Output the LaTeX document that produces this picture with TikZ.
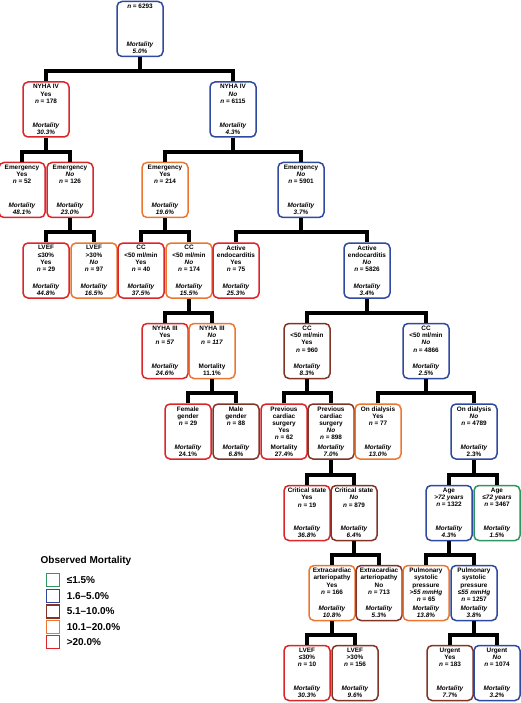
\documentclass[tikz,border=0pt]{standalone}
\usepackage{fontspec}
\setmainfont{Liberation Sans}
\definecolor{mgreen}{RGB}{48,150,96}
\definecolor{mblue}{RGB}{46,73,158}
\definecolor{mbrown}{RGB}{130,52,38}
\definecolor{morange}{RGB}{236,118,48}
\definecolor{mred}{RGB}{218,37,41}
% top lines of a box, then mortality at its foot
\newcommand{\boxtext}[2]{\parbox[c][50pt][s]{42pt}{\centering #1\par\vfill #2}}
\begin{document}
\begin{tikzpicture}[x=1pt, y=-1pt,
    cell/.style={draw, rounded corners=5pt, line width=1.5pt, minimum width=43pt,
      minimum height=55pt, inner sep=2pt, font=\fontsize{6.4}{7.2}\selectfont\bfseries},
    lowbox/.style={cell, draw=mgreen},
    midbox/.style={cell, draw=mblue},
    raisedbox/.style={cell, draw=mbrown},
    highbox/.style={cell, draw=morange},
    topbox/.style={cell, draw=mred},
    link/.style={line width=4pt},
    legbox/.style={draw, line width=1.5pt, minimum size=13pt, inner sep=0pt},
    legtext/.style={anchor=west, font=\fontsize{10}{12}\selectfont\bfseries}]
    \useasboundingbox (0,0) rectangle (520,703);

    % root
    \node[midbox] (root) at (140,29) {\boxtext{\textit{n} = 6293}{\textit{Mortality}\\\textit{5.0\%}}};

    % NYHA IV
    \node[topbox] (nyY) at (46,109.5) {\boxtext{NYHA IV\\Yes\\\textit{n} = 178}{\textit{Mortality}\\\textit{30.3\%}}};
    \node[midbox] (nyN) at (233,109.5) {\boxtext{NYHA IV\\\textit{No}\\\textit{n} = 6115}{\textit{Mortality}\\\textit{4.3\%}}};

    % emergency
    \node[topbox] (emY1) at (22,190) {\boxtext{Emergency\\Yes\\\textit{n} = 52}{\textit{Mortality}\\\textit{48.1\%}}};
    \node[topbox] (emN1) at (70,190) {\boxtext{Emergency\\\textit{No}\\\textit{n} = 126}{\textit{Mortality}\\\textit{23.0\%}}};
    \node[highbox] (emY2) at (165,190) {\boxtext{Emergency\\Yes\\\textit{n} = 214}{\textit{Mortality}\\\textit{19.6\%}}};
    \node[midbox] (emN2) at (301,190) {\boxtext{Emergency\\\textit{No}\\\textit{n} = 5901}{\textit{Mortality}\\\textit{3.7\%}}};

    % LVEF, CC, active endocarditis
    \node[topbox] (lvL1) at (46,270.5) {\boxtext{LVEF\\≤30\%\\Yes\\\textit{n} = 29}{\textit{Mortality}\\\textit{44.8\%}}};
    \node[highbox] (lvH1) at (94,270.5) {\boxtext{LVEF\\>30\%\\\textit{No}\\\textit{n} = 97}{\textit{Mortality}\\\textit{16.5\%}}};
    \node[topbox] (ccY1) at (141,270.5) {\boxtext{CC\\<50 ml/min\\Yes\\\textit{n} = 40}{\textit{Mortality}\\\textit{37.5\%}}};
    \node[highbox] (ccN1) at (189,270.5) {\boxtext{CC\\<50 ml/min\\\textit{No}\\\textit{n} = 174}{\textit{Mortality}\\\textit{15.5\%}}};
    \node[topbox] (aeY) at (236,270.5) {\boxtext{Active\\endocarditis\\Yes\\\textit{n} = 75}{\textit{Mortality}\\\textit{25.3\%}}};
    \node[midbox] (aeN) at (367,270.5) {\boxtext{Active\\endocarditis\\\textit{No}\\\textit{n} = 5826}{\textit{Mortality}\\\textit{3.4\%}}};

    % NYHA III, CC
    \node[topbox] (n3Y) at (165,351) {\boxtext{NYHA III\\Yes\\\textit{n = 57}}{\textit{Mortality}\\\textit{24.6\%}}};
    \node[highbox] (n3N) at (212,351) {\boxtext{NYHA III\\\textit{No}\\\textit{n = 117}}{Mortality\\11.1\%}};
    \node[raisedbox] (ccY2) at (307,351) {\boxtext{CC\\<50 ml/min\\Yes\\\textit{n} = 960}{\textit{Mortality}\\\textit{8.3\%}}};
    \node[midbox] (ccN2) at (426,351) {\boxtext{CC\\<50 ml/min\\\textit{No}\\\textit{n} = 4866}{\textit{Mortality}\\\textit{2.5\%}}};

    % gender, previous surgery, dialysis
    \node[topbox] (fem) at (188,431.5) {\boxtext{Female\\gender\\\textit{n} = 29}{\textit{Mortality}\\24.1\%}};
    \node[raisedbox] (male) at (236,431.5) {\boxtext{Male\\gender\\\textit{n} = 88}{\textit{Mortality}\\\textit{6.8\%}}};
    \node[topbox] (pcsY) at (284,431.5) {\boxtext{Previous\\cardiac\\surgery\\Yes\\\textit{n} = 62}{Mortality\\27.4\%}};
    \node[raisedbox] (pcsN) at (331,431.5) {\boxtext{Previous\\cardiac\\surgery\\\textit{No}\\\textit{n} = 898}{\textit{Mortality}\\\textit{7.0\%}}};
    \node[highbox] (dlY) at (378,431.5) {\boxtext{On dialysis\\Yes\\\textit{n} = 77}{\textit{Mortality}\\\textit{13.0\%}}};
    \node[midbox] (dlN) at (474,431.5) {\boxtext{On dialysis\\\textit{No}\\\textit{n} = 4789}{\textit{Mortality}\\2.3\%}};

    % critical state, age
    \node[topbox] (crY) at (307,513) {\boxtext{Critical state\\Yes\\\textit{n} = 19}{\textit{Mortality}\\\textit{36.8\%}}};
    \node[raisedbox] (crN) at (354,513) {\boxtext{Critical state\\\textit{No}\\\textit{n} = 879}{\textit{Mortality}\\\textit{6.4\%}}};
    \node[midbox] (agH) at (449,513) {\boxtext{Age\\\textit{>72 years}\\\textit{n} = 1322}{\textit{Mortality}\\\textit{4.3\%}}};
    \node[lowbox] (agL) at (497,513) {\boxtext{Age\\\textit{≤72 years}\\\textit{n} = 3467}{\textit{Mortality}\\\textit{1.5\%}}};

    % arteriopathy, pulmonary pressure
    \node[highbox] (exY) at (332,593) {\boxtext{Extracardiac\\arteriopathy\\Yes\\\textit{n} = 166}{\textit{Mortality}\\\textit{10.8\%}}};
    \node[raisedbox] (exN) at (379,593) {\boxtext{Extracardiac\\arteriopathy\\No\\\textit{n} = 713}{\textit{Mortality}\\\textit{5.3\%}}};
    \node[highbox] (puH) at (426,593) {\boxtext{Pulmonary\\systolic\\pressure\\\textit{>55 mmHg}\\\textit{n} = 65}{\textit{Mortality}\\\textit{13.8\%}}};
    \node[midbox] (puL) at (474,593) {\boxtext{Pulmonary\\systolic\\pressure\\\textit{≤55 mmHg}\\\textit{n} = 1257}{\textit{Mortality}\\\textit{3.8\%}}};

    % LVEF, urgent
    \node[topbox] (lvL2) at (307,673) {\boxtext{LVEF\\≤30\%\\\textit{n} = 10}{\textit{Mortality}\\\textit{30.3\%}}};
    \node[raisedbox] (lvH2) at (355,673) {\boxtext{LVEF\\>30\%\\\textit{n} = 156}{\textit{Mortality}\\\textit{9.6\%}}};
    \node[raisedbox] (urY) at (450,673) {\boxtext{Urgent\\Yes\\\textit{n} = 183}{\textit{Mortality}\\\textit{7.7\%}}};
    \node[midbox] (urN) at (497,673) {\boxtext{Urgent\\\textit{No}\\\textit{n} = 1074}{\textit{Mortality}\\\textit{3.2\%}}};

    % splits
    \foreach \p/\a/\b in {root/nyY/nyN, nyY/emY1/emN1, nyN/emY2/emN2, emN1/lvL1/lvH1,
        emY2/ccY1/ccN1, emN2/aeY/aeN, ccN1/n3Y/n3N, aeN/ccY2/ccN2, n3N/fem/male,
        ccY2/pcsY/pcsN, ccN2/dlY/dlN, pcsN/crY/crN, dlN/agH/agL, crN/exY/exN,
        agH/puH/puL, exY/lvL2/lvH2, puL/urY/urN} {
      \draw[link] (\a.north) -- ++(0,-10) coordinate (bar) -| (\b.north);
      \draw[link] (\p.south) -- (\p.south |- bar);
    }

    % legend
    \node[font=\fontsize{10}{12}\selectfont\bfseries] (legtitle) at (86,561) {Observed Mortality};
    \node[legbox, draw=mgreen] (lg1) at (53,580) {};
    \node[legbox, draw=mblue] (lg2) at (53,596) {};
    \node[legbox, draw=mbrown] (lg3) at (53,611.5) {};
    \node[legbox, draw=morange] (lg4) at (53,627) {};
    \node[legbox, draw=mred] (lg5) at (53,642) {};
    \node[legtext] at ([xshift=3pt]lg1.east) {≤1.5\%};
    \node[legtext] at ([xshift=3pt]lg2.east) {1.6–5.0\%};
    \node[legtext] at ([xshift=3pt]lg3.east) {5.1–10.0\%};
    \node[legtext] at ([xshift=3pt]lg4.east) {10.1–20.0\%};
    \node[legtext] at ([xshift=3pt]lg5.east) {>20.0\%};
\end{tikzpicture}
\end{document}
